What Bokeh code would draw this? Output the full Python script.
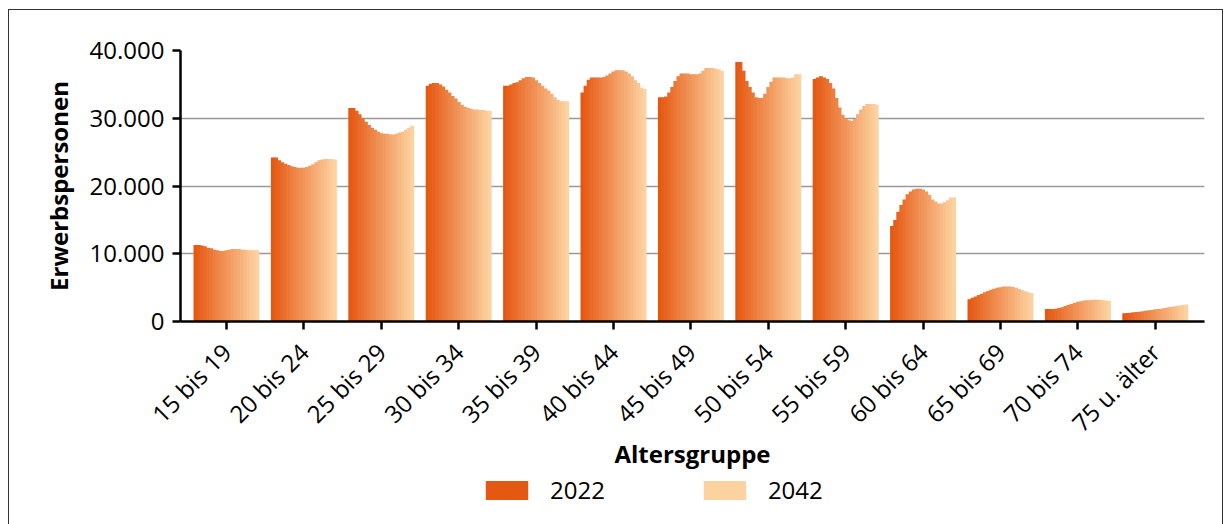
import math
from bokeh.plotting import figure
from bokeh.layouts import column
from bokeh.models import (Range1d, FixedTicker, Legend, LegendItem, ColumnDataSource)
from bokeh.embed import file_html
from bokeh.resources import INLINE

# ---- data (Erwerbspersonen, yearly 2022..2042, per age group) ----
age_groups = ["15 bis 19", "20 bis 24", "25 bis 29", "30 bis 34", "35 bis 39",
              "40 bis 44", "45 bis 49", "50 bis 54", "55 bis 59", "60 bis 64",
              "65 bis 69", "70 bis 74", "75 u. älter"]
years = [2022, 2023, 2024, 2025, 2026, 2027, 2028, 2029, 2030, 2031, 2032,
         2033, 2034, 2035, 2036, 2037, 2038, 2039, 2040, 2041, 2042]

v_15_19 = [11300, 11300, 11200, 11100, 10900, 10800, 10600, 10500, 10400, 10400, 10500,
           10600, 10700, 10700, 10700, 10600, 10600, 10500, 10500, 10500, 10500]
v_20_24 = [24200, 24200, 23800, 23500, 23300, 23100, 22900, 22800, 22700, 22700, 22700,
           22800, 23000, 23200, 23500, 23800, 23900, 24000, 24000, 24000, 23900]
v_25_29 = [31500, 31500, 31100, 30600, 30000, 29500, 29000, 28600, 28300, 28000, 27800,
           27700, 27700, 27600, 27600, 27700, 27900, 28000, 28300, 28600, 28900]
v_30_34 = [34800, 35100, 35200, 35200, 35000, 34700, 34200, 33800, 33300, 32900, 32400,
           32000, 31700, 31500, 31400, 31300, 31300, 31200, 31200, 31100, 31100]
v_35_39 = [34800, 34800, 35000, 35200, 35300, 35600, 35900, 36100, 36100, 36000, 35600,
           35200, 34800, 34400, 34100, 33600, 33100, 32700, 32500, 32500, 32500]
v_40_44 = [33800, 34800, 35700, 36000, 36000, 36000, 36000, 36100, 36300, 36600, 36900,
           37100, 37100, 37100, 36900, 36600, 36200, 35600, 35200, 34500, 34300]
v_45_49 = [33100, 33100, 33200, 33800, 34600, 35500, 36200, 36600, 36600, 36600, 36500,
           36500, 36500, 36600, 37000, 37400, 37400, 37400, 37300, 37200, 37000]
v_50_54 = [38300, 38300, 37000, 35500, 34600, 33800, 33100, 33000, 33000, 33600, 34600,
           35400, 36000, 36000, 36000, 36000, 35900, 35900, 36000, 36500, 36500]
v_55_59 = [35800, 36000, 36200, 36000, 35800, 35200, 34400, 33000, 31600, 30500, 29900,
           29700, 29600, 29900, 30600, 31300, 31800, 32100, 32100, 32100, 32000]
v_60_64 = [14100, 15000, 16200, 17200, 18000, 18800, 19200, 19500, 19600, 19600, 19500,
           19200, 18700, 18000, 17700, 17400, 17400, 17600, 17900, 18300, 18300]
v_65_69 = [3300, 3500, 3700, 3900, 4100, 4300, 4500, 4700, 4850, 5000, 5050,
           5150, 5150, 5150, 5100, 5000, 4800, 4600, 4450, 4300, 4200]
v_70_74 = [1850, 1850, 1850, 1900, 2000, 2100, 2300, 2450, 2600, 2750, 2900,
           3000, 3100, 3150, 3150, 3200, 3200, 3200, 3150, 3100, 3050]
v_75_up = [1200, 1250, 1300, 1350, 1400, 1450, 1500, 1600, 1650, 1700, 1800,
           1850, 1900, 2000, 2050, 2150, 2200, 2300, 2350, 2450, 2500]

series = [v_15_19, v_20_24, v_25_29, v_30_34, v_35_39, v_40_44, v_45_49,
          v_50_54, v_55_59, v_60_64, v_65_69, v_70_74, v_75_up]

y_ticks = [0, 10000, 20000, 30000, 40000]
y_tick_labels = ["0", "10.000", "20.000", "30.000", "40.000"]
legend_labels = ["2022", "2042"]

# ---- styling ----
C0 = (229, 88, 18)    # 2022
C1 = (252, 210, 160)  # 2042
FONT = "Open Sans"

def mix(t):
    r = round(C0[0] + (C1[0] - C0[0]) * t)
    g = round(C0[1] + (C1[1] - C0[1]) * t)
    b = round(C0[2] + (C1[2] - C0[2]) * t)
    return "#%02x%02x%02x" % (r, g, b)

n = len(years)
group_w = 0.84
slice_w = group_w / n

xs, tops, colors = [], [], []
for gi, vals in enumerate(series):
    for j, v in enumerate(vals):
        xs.append(gi - group_w / 2 + slice_w * (j + 0.5))
        tops.append(v)
        colors.append(mix(j / (n - 1)))

src = ColumnDataSource(dict(x=xs, top=tops, color=colors))

W = 1213
p = figure(width=W, height=463, output_backend="svg", toolbar_location=None,
           x_range=Range1d(-0.594, 12.636), y_range=Range1d(0, 40000),
           min_border_left=171, min_border_right=18, min_border_top=40,
           min_border_bottom=146)
p.outline_line_color = None
p.background_fill_color = "white"
p.border_fill_color = "white"

p.vbar(x="x", top="top", width=slice_w * 1.3, bottom=0, fill_color="color",
       line_color=None, source=src)

# grid
p.xgrid.visible = False
p.ygrid.ticker = FixedTicker(ticks=y_ticks)
p.ygrid.grid_line_color = "#999999"
p.ygrid.grid_line_width = 1.5
p.ygrid.level = "underlay"

# y axis
ya = p.yaxis[0]
ya.ticker = FixedTicker(ticks=y_ticks)
ya.major_label_overrides = {t: l for t, l in zip(y_ticks, y_tick_labels)}
ya.axis_label = "Erwerbspersonen"
ya.axis_label_text_font = FONT
ya.axis_label_text_font_style = "bold"
ya.axis_label_text_font_size = "24px"
ya.axis_label_text_color = "black"
ya.axis_label_standoff = 12
ya.major_label_text_font = FONT
ya.major_label_text_font_size = "24px"
ya.major_label_text_color = "black"
ya.major_label_standoff = 8
ya.axis_line_width = 2.5
ya.axis_line_color = "black"
ya.major_tick_line_width = 2.5
ya.major_tick_out = 8
ya.major_tick_in = 0
ya.minor_tick_line_color = None

# x axis
xa = p.xaxis[0]
xa.ticker = FixedTicker(ticks=list(range(len(age_groups))))
xa.major_label_overrides = {i: g for i, g in enumerate(age_groups)}
xa.major_label_orientation = math.pi / 4
xa.axis_label = "Altersgruppe"
xa.axis_label_text_font = FONT
xa.axis_label_text_font_style = "bold"
xa.axis_label_text_font_size = "24px"
xa.axis_label_text_color = "black"
xa.axis_label_standoff = -16
xa.major_label_text_font = FONT
xa.major_label_text_font_size = "24px"
xa.major_label_text_color = "black"
xa.major_label_standoff = 18
xa.axis_line_width = 2.5
xa.axis_line_color = "black"
xa.major_tick_line_width = 2.5
xa.major_tick_out = 8
xa.major_tick_in = 0
xa.minor_tick_line_color = None

# legend figure (frames of the column are aligned with the main plot)
lf = figure(width=W, height=51, output_backend="svg", toolbar_location=None,
            x_range=Range1d(0, 1), y_range=Range1d(0, 1),
            x_axis_type=None, y_axis_type=None,
            min_border_left=171, min_border_right=18, min_border_top=0,
            min_border_bottom=0)
lf.outline_line_color = None
lf.xgrid.visible = False
lf.ygrid.visible = False
r0 = lf.vbar(x=[-5], top=[-5], width=0.5, fill_color=mix(0), line_color=None)
r1 = lf.vbar(x=[-5], top=[-5], width=0.5, fill_color=mix(1), line_color=None)
legend = Legend(items=[LegendItem(label=legend_labels[0], renderers=[r0]),
                       LegendItem(label=legend_labels[1], renderers=[r1])],
                orientation="horizontal", location=(300, 18),
                glyph_width=53, glyph_height=24, label_height=24,
                label_standoff=17, spacing=93,
                padding=0, margin=0, border_line_color=None,
                background_fill_alpha=0, label_text_font=FONT,
                label_text_font_size="24px", label_text_color="black")
lf.add_layout(legend, "center")

layout = column(p, lf, spacing=0, margin=(9, 0, 0, 8),
                styles={"border": "1px solid #333"})

open("out.html", "w").write(file_html(layout, INLINE))
